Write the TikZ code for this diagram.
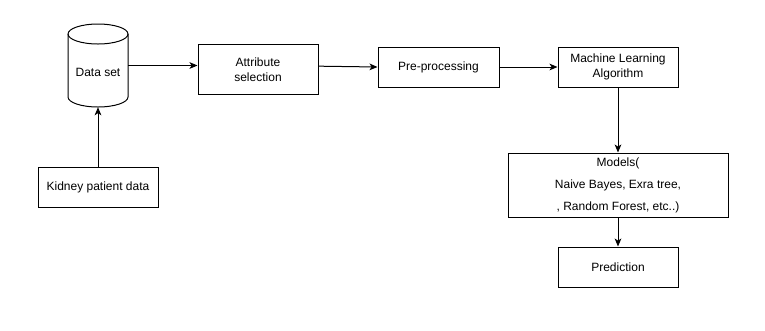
\documentclass[tikz,border=0pt]{standalone}
\usepackage{fontspec}
\setmainfont{Liberation Sans}
\usetikzlibrary{arrows.meta}
\begin{document}
\begin{tikzpicture}[x=0.75pt,y=-0.75pt,
  every node/.style={font=\fontsize{9}{11}\selectfont},
  box/.style={draw,line width=0.75pt,inner sep=0pt,align=center},
  link/.style={draw,line width=0.75pt,-{Stealth[length=6pt,width=5pt,inset=1.6pt]}}]
\useasboundingbox (0,0) rectangle (765,330);

% data store drawn as a cylinder around an invisible node
\node[inner sep=0pt,minimum width=45pt,minimum height=62.25pt] (ds) at (98,65.5) {};
\draw[line width=0.75pt,fill=white]
  (68,34) -- (68,97) arc[start angle=180,end angle=0,x radius=30,y radius=10]
  -- (128,34) arc[start angle=0,end angle=-180,x radius=30,y radius=10] -- cycle;
\draw[line width=0.75pt] (68,34) arc[start angle=180,end angle=0,x radius=30,y radius=10];
\node at (98,72) {Data set};

\node[box,minimum width=90pt,minimum height=37.5pt] (attr) at (258,69.5) {Attribute\\selection};
\node[box,minimum width=90.75pt,minimum height=30pt] (pre) at (438.5,67) {Pre-processing};
\node[box,minimum width=90pt,minimum height=30pt] (ml) at (618,67) {Machine Learning\\Algorithm};
\node[box,minimum width=165pt,minimum height=48pt,font=\fontsize{9}{16.5}\selectfont] (models) at (618,185)
  {Models(\\Naive Bayes, Exra tree,\\, Random Forest, etc..)};
\node[box,minimum width=90pt,minimum height=30pt] (pred) at (618,267) {Prediction};
\node[box,minimum width=90pt,minimum height=30pt] (kid) at (98,187) {Kidney patient data};

\draw[link] (ds.east) -- (attr.west |- ds.east);
\draw[link] ([yshift=2.5pt]attr.east) -- (pre.west);
\draw[link] (pre.east) -- (ml.west);
\draw[link] (ml.south) -- (models.north);
\draw[link] (models.south) -- (pred.north);
\draw[link] (kid.north) -- (ds.south);
\end{tikzpicture}
\end{document}
